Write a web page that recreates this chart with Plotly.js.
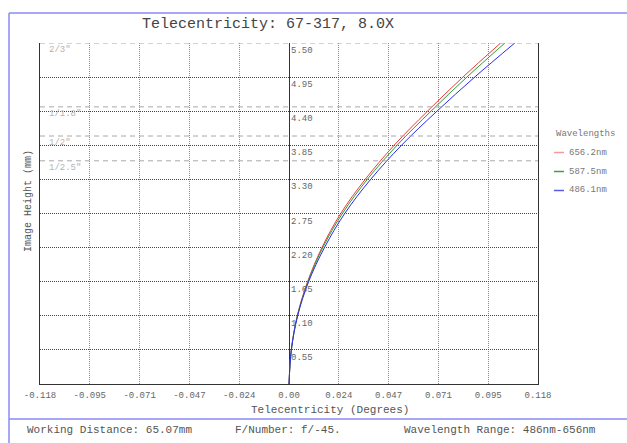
<!DOCTYPE html>
<html>
<head>
<meta charset="utf-8">
<script src="https://cdn.plot.ly/plotly-3.0.1.min.js"></script>
<style>html,body{margin:0;padding:0;background:#fff;}#chart{width:627px;height:443px;}</style>
</head>
<body>
<div id="chart"></div>
<script>
// ---- data ----
const imageHeight = [0, 0.55, 1.10, 1.65, 2.20, 2.75, 3.30, 3.85, 4.40, 4.95, 5.50];
const tele656 = [0, 0.0011, 0.0039, 0.0088, 0.0156, 0.0245, 0.0361, 0.0498, 0.0656, 0.0824, 0.1003];
const tele587 = [0, 0.0011, 0.0040, 0.0090, 0.0160, 0.0253, 0.0371, 0.0512, 0.0673, 0.0843, 0.1023];
const tele486 = [0, 0.0011, 0.0041, 0.0093, 0.0168, 0.0264, 0.0387, 0.0533, 0.0701, 0.0880, 0.1070];
const seriesNames = ["656.2nm", "587.5nm", "486.1nm"];
const xTickLabels = ["-0.118", "-0.095", "-0.071", "-0.047", "-0.024", "0.00", "0.024", "0.047", "0.071", "0.095", "0.118"];
const xTickVals = [-0.118, -0.0944, -0.0708, -0.0472, -0.0236, 0, 0.0236, 0.0472, 0.0708, 0.0944, 0.118];
const yTickLabels = ["0.55", "1.10", "1.65", "2.20", "2.75", "3.30", "3.85", "4.40", "4.95", "5.50"];
const yTickVals = [0.55, 1.10, 1.65, 2.20, 2.75, 3.30, 3.85, 4.40, 4.95, 5.50];
const sensorNames = ['2/3"', '1/1.8"', '1/2"', '1/2.5"'];
const sensorHeights = [5.5, 4.47, 4.0, 3.6];
const titleText = "Telecentricity: 67-317, 8.0X";
const footerTexts = ["Working Distance: 65.07mm", "F/Number: f/-45.", "Wavelength Range: 486nm-656nm"];

// ---- styling ----
const FONT = "Liberation Mono, Courier New, monospace";
const colors = ["#ee3b3b", "#2e9e2e", "#2b2bee"];
const legendColors = ["#f29a9a", "#3da03d", "#5a5ae8"];
const W = 627, H = 443, L = 40, R = 538, T = 43, B = 384;
const px = x => (x - L) / (R - L);
const py = y => (B - y) / (B - T);

const series = [tele656, tele587, tele486];
const traces = series.map((s, i) => ({
  x: s, y: imageHeight, type: "scatter", mode: "lines",
  name: seriesNames[i], line: {color: colors[i], width: 1, shape: "spline", smoothing: 1},
  showlegend: false, hoverinfo: "skip"
}));

const shapes = [];
const annotations = [];

// border box and footer separator
const blue = "#8a8af5";
shapes.push({type: "line", xref: "paper", yref: "paper", x0: px(9), x1: px(W + 5), y0: py(13), y1: py(13), line: {color: blue, width: 1.5}});
shapes.push({type: "line", xref: "paper", yref: "paper", x0: px(9), x1: px(9), y0: py(13), y1: py(H + 5), line: {color: blue, width: 1.5}});
shapes.push({type: "line", xref: "paper", yref: "paper", x0: px(9), x1: px(W + 5), y0: py(419), y1: py(419), line: {color: blue, width: 1.5}});

// sensor-size dashed lines & labels
sensorHeights.forEach((h, i) => {
  shapes.push({type: "line", xref: "paper", yref: "y", x0: 0, x1: 1, y0: h, y1: h,
    line: {color: "#a8a8a8", width: 1, dash: "5px,4px"}, layer: "above"});
  annotations.push({xref: "paper", yref: "y", x: 0, y: h, text: sensorNames[i], showarrow: false,
    xanchor: "left", yanchor: "top", xshift: 7, yshift: 0, font: {family: FONT, size: 9, color: "#b4b4b4"}});
});

// y tick labels inside, right of zero line
yTickVals.forEach((v, i) => {
  annotations.push({xref: "x", yref: "y", x: 0, y: v, text: yTickLabels[i], showarrow: false,
    xanchor: "left", yanchor: "top", xshift: 0, yshift: -1, font: {family: FONT, size: 9, color: "#666"}});
});

// axis titles
annotations.push({xref: "paper", yref: "paper", x: px(329.5), y: py(410), text: "Telecentricity (Degrees)", showarrow: false,
  xanchor: "center", yanchor: "middle", font: {family: FONT, size: 11, color: "#555"}});
annotations.push({xref: "paper", yref: "paper", x: px(28), y: py(201), text: "Image Height (mm)", showarrow: false,
  textangle: -90, xanchor: "center", yanchor: "middle", font: {family: FONT, size: 10, color: "#555"}});

// footer
const footerX = [25, 233, 402];
footerTexts.forEach((t, i) => {
  annotations.push({xref: "paper", yref: "paper", x: px(footerX[i]), y: py(430), text: t, showarrow: false,
    xanchor: "left", yanchor: "middle", font: {family: FONT, size: 11, color: "#555"}});
});

// custom legend
annotations.push({xref: "paper", yref: "paper", x: px(554), y: py(134), text: "Wavelengths", showarrow: false,
  xanchor: "left", yanchor: "middle", font: {family: FONT, size: 9, color: "#777"}});
seriesNames.forEach((n, i) => {
  const yy = 152.5 + i * 19;
  shapes.push({type: "line", xref: "paper", yref: "paper", x0: px(554), x1: px(564), y0: py(yy), y1: py(yy),
    line: {color: legendColors[i], width: 1.5}});
  annotations.push({xref: "paper", yref: "paper", x: px(567), y: py(yy), text: n, showarrow: false,
    xanchor: "left", yanchor: "middle", font: {family: FONT, size: 9, color: "#777"}});
});

const layout = {
  width: W, height: H,
  margin: {l: L, r: W - R, t: T, b: H - B, pad: 0},
  paper_bgcolor: "#fff", plot_bgcolor: "#fff",
  showlegend: false,
  title: {text: titleText, xref: "container", yref: "container", x: 268 / W, y: 1 - 23 / H,
    xanchor: "center", yanchor: "middle", font: {family: FONT, size: 15, color: "#444"}},
  xaxis: {
    range: [-0.118, 0.118], tickmode: "array", tickvals: xTickVals, ticktext: xTickLabels,
    showgrid: true, gridcolor: "#8a8a8a", griddash: "1px,1px", gridwidth: 1,
    zeroline: true, zerolinecolor: "#333", zerolinewidth: 1,
    showline: true, linecolor: "#333", linewidth: 1, ticks: "", ticklabelstandoff: 2,
    tickfont: {family: FONT, size: 9, color: "#666"}, fixedrange: true
  },
  yaxis: {
    range: [0, 5.5], tickmode: "array", tickvals: yTickVals, showticklabels: false,
    showgrid: true, gridcolor: "#444", griddash: "1px,1px", gridwidth: 1,
    zeroline: false, showline: true, mirror: true, linecolor: "#333", linewidth: 1, ticks: "", fixedrange: true
  },
  shapes: shapes,
  annotations: annotations
};

Plotly.newPlot("chart", traces, layout, {displayModeBar: false, staticPlot: true});
</script>
</body>
</html>
